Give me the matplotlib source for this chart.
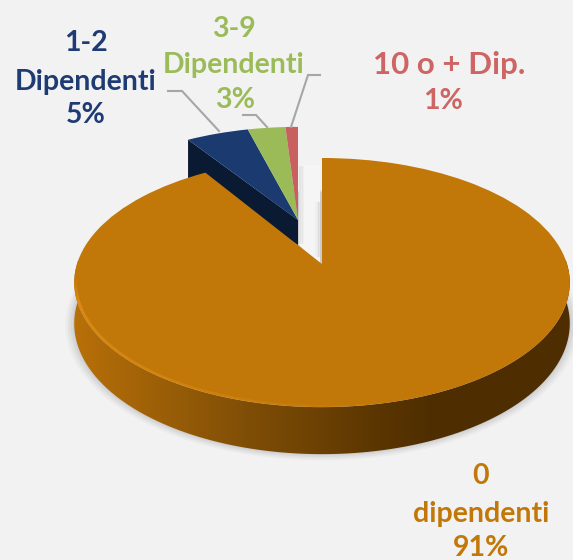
"""3D-look pie of firms by number of employees."""

import matplotlib

matplotlib.use("Agg")
import matplotlib.pyplot as plt
import matplotlib.transforms as mtransforms
import numpy as np
from matplotlib.collections import LineCollection
from matplotlib.colors import LinearSegmentedColormap, to_rgba
from matplotlib.patches import Polygon

shares = [91, 5, 3, 1]
slice_colors = ["#c27808", "#1a3a70", "#9bbb59", "#c8605f"]

BACKGROUND = "#f2f2f2"
PERSPECTIVE = 0.149
DEPTH = 40
BIG_CENTER = (322, 264)
SMALL_CENTER = (298, 220)


class Perspective(mtransforms.Transform):
    """Tilt the unit pie into pixel coordinates (y pointing down)."""

    input_dims = 2
    output_dims = 2

    def __init__(self, center, x_scale, y_scale, drop=0.0):
        super().__init__()
        self.center = center
        self.x_scale = x_scale
        self.y_scale = y_scale
        self.drop = drop

    def transform_non_affine(self, values):
        values = np.asarray(values, dtype=float)
        x, y = values[:, 0], values[:, 1]
        den = 1 + PERSPECTIVE * y
        return np.column_stack(
            [
                self.center[0] + self.x_scale * x / den,
                self.center[1] + (self.drop - self.y_scale * y) / den,
            ]
        )


def rim(tilt, start, stop, radius=1.0, n=200):
    th = np.radians(np.linspace(start, stop, n))
    return tilt.transform_non_affine(np.column_stack([radius * np.cos(th), radius * np.sin(th)]))


fig = plt.figure(figsize=(5.73, 5.6), dpi=100, facecolor=BACKGROUND)
ax = fig.add_axes([0, 0, 1, 1])
plt.rcParams["font.family"] = ["Lato", "DejaVu Sans"]

wedges, _ = ax.pie(shares, colors=slice_colors, startangle=90, counterclock=False)

big_top = Perspective(BIG_CENTER, 245, 121.8)
big_low = Perspective(BIG_CENTER, 245, 121.8, DEPTH)
small_top = Perspective(SMALL_CENTER, 231, 107)

for i, wedge in enumerate(wedges):
    tilt = big_top if i == 0 else small_top
    wedge.set_transform(tilt + ax.transData)
    wedge.set_zorder(6 if i == 0 else 4)
    wedge.set_linewidth(0)

ax.set_aspect("auto")
ax.set_xlim(0, 573)
ax.set_ylim(560, 0)
ax.axis("off")

# soft shadow under the disc
for radius, alpha in [(1.035, 0.05), (1.025, 0.07), (1.015, 0.09), (1.005, 0.12)]:
    ax.fill(*rim(big_low, 0, 360, radius).T, color="#777777", alpha=alpha, lw=0, zorder=1)

# side wall of the big slice, shaded left to right
side_cmap = LinearSegmentedColormap.from_list(
    "side",
    [(0.0, "#b87009"), (0.35, "#7f4e06"), (0.62, "#5a3501"), (0.72, "#4e2e00"), (1.0, "#4e2e00")],
)
side_points = np.vstack([rim(big_top, 172, 368), rim(big_low, 368, 172)])
side_patch = Polygon(side_points, closed=True, facecolor="none", edgecolor="none")
ax.add_patch(side_patch)
gradient = np.linspace(0, 1, 256).reshape(1, -1)
side = ax.imshow(gradient, cmap=side_cmap, extent=(74, 571, 470, 260), aspect="auto", zorder=5)
side.set_clip_path(side_patch)
ax.set_xlim(0, 573)
ax.set_ylim(560, 0)

# bright edge on the lit side of the rim
edge = rim(big_top, 186, 285, 0.994)
segments = np.stack([edge[:-1], edge[1:]], axis=1)
edge_alpha = np.minimum(np.linspace(0, 6, len(segments)), np.linspace(0.75, 0.0, len(segments)))
edge_colors = [to_rgba("#ec951c", a) for a in edge_alpha]
ax.add_collection(LineCollection(segments, colors=edge_colors, linewidths=2.0, zorder=7))

# dark cut face below the pulled-out slices: deeper at the rim than at the tip
start = np.radians(90 + sum(shares[1:]) * 3.6)
rim_corner = small_top.transform_non_affine(np.array([[np.cos(start), np.sin(start)]]))[0]
tip = small_top.transform_non_affine(np.array([[0.0, 0.0]]))[0]
face = [rim_corner, tip, tip + [0, 25], rim_corner + [0, 40]]
ax.add_patch(Polygon(face, closed=True, facecolor="#0b1a33", lw=0, zorder=3))

# faint shading inside the gap between the slices
ax.fill([299, 320, 320, 299], [165, 165, 265, 245], color="#f5f5f5", lw=0, zorder=2)
for offset, alpha in [(0, 0.14), (1.5, 0.08), (3, 0.04)]:
    ax.plot([300 + offset] * 2, [167, 243], color="#808080", alpha=alpha, lw=1.5, zorder=2)
    ax.plot([319 - offset] * 2, [203, 256], color="#808080", alpha=alpha, lw=1.5, zorder=2)

# leader lines
for xs, ys in [
    ([168, 182, 219], [91, 91, 131]),
    ([243, 256, 267], [115, 115, 127]),
    ([320, 308, 291], [75, 75, 127]),
]:
    ax.plot(xs, ys, color="#a6a6a6", lw=1.5, zorder=8, solid_joinstyle="miter")

labels = [
    (86, 43, "1-2", "#1f3b73", 20.5),
    (86, 82, "Dipendenti", "#1f3b73", 20.5),
    (86, 115, "5%", "#1f3b73", 20.5),
    (234, 29, "3-9", "#9bbb59", 20.5),
    (234, 65, "Dipendenti", "#9bbb59", 20.5),
    (235, 100, "3%", "#9bbb59", 20.5),
    (449, 65, "10 o + Dip.", "#cd6564", 22.5),
    (443, 101, "1%", "#cd6564", 20.5),
    (481, 476, "0", "#c27808", 20.5),
    (481, 514, "dipendenti", "#c27808", 20.5),
    (481, 548, "91%", "#c27808", 20.5),
]
for x, y, text, color, size in labels:
    ax.text(x, y, text, color=color, fontsize=size, fontweight="bold", ha="center", va="center", zorder=9)

fig.savefig("out.png", dpi=100, facecolor=BACKGROUND)
